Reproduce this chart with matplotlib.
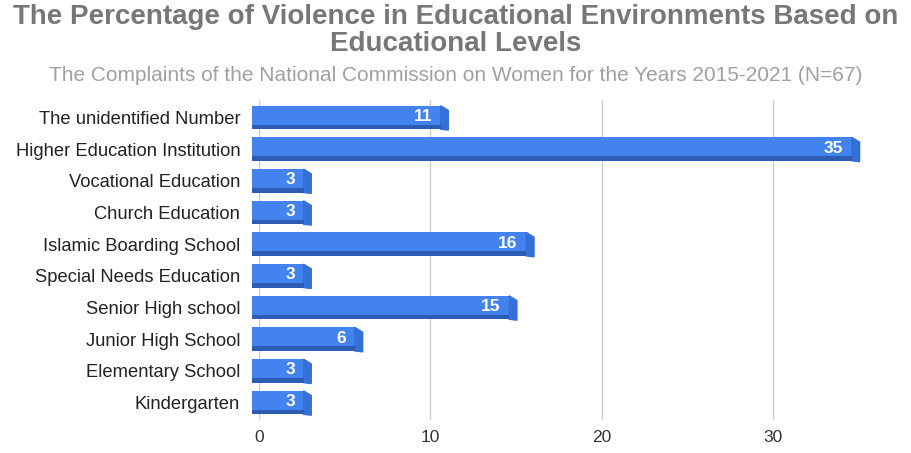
import numpy as np
import matplotlib.pyplot as plt
from matplotlib.patches import Polygon

categories = ['The unidentified Number', 'Higher Education Institution', 'Vocational Education',
              'Church Education', 'Islamic Boarding School', 'Special Needs Education',
              'Senior High school', 'Junior High School', 'Elementary School', 'Kindergarten']
values = [11, 35, 3, 3, 16, 3, 15, 6, 3, 3]
xticks = [0, 10, 20, 30]

plt.rcParams['font.family'] = ['Liberation Sans', 'DejaVu Sans']

fig = plt.figure(figsize=(9.11, 4.53), dpi=100)
ax = fig.add_axes([259 / 911, 33 / 453, 634 / 911, 320 / 453])

y = np.arange(len(categories))
h = 0.74
front = '#4283f0'
dark = '#2c5cb4'

# darker bottom strip and main face
ax.barh(y, values, height=h, left=-0.4, color=front, zorder=3, clip_on=False)
ax.barh(y + h / 2 - 0.07, values, height=0.14, left=-0.4, color=dark, zorder=4, clip_on=False)
# bevelled right side
for yi, v in zip(y, values):
    poly = Polygon([(v - 0.4, yi - h / 2), (v + 0.05, yi - h / 2 + 0.15),
                    (v + 0.05, yi + h / 2 + 0.03), (v - 0.4, yi + h / 2)],
                   closed=True, color='#3470d8', zorder=3)
    ax.add_patch(poly)
    ax.text(v - 0.9, yi - 0.03, str(v), ha='right', va='center', color='white',
            fontsize=12.5, fontweight='bold', zorder=5)

ax.set_xlim(0, 37)
ax.set_ylim(len(categories) - 0.45, -0.55)
ax.set_xticks(xticks)
ax.set_yticks(y)
ax.set_yticklabels(categories, fontsize=13.2, color='#222222')
ax.tick_params(axis='both', length=0)
ax.tick_params(axis='y', pad=13.5)
ax.tick_params(axis='x', labelsize=12.5, labelcolor='#333333', pad=7)
ax.grid(axis='x', color='#cccccc', linewidth=1, zorder=0)
for s in ax.spines.values():
    s.set_visible(False)

fig.text(0.5, 0.962, 'The Percentage of Violence in Educational Environments Based on',
         ha='center', va='center', fontsize=20, fontweight='bold', color='#777777')
fig.text(0.5, 0.902, 'Educational Levels', ha='center', va='center',
         fontsize=20, fontweight='bold', color='#777777')
fig.text(0.5, 0.834, 'The Complaints of the National Commission on Women for the Years 2015-2021 (N=67)',
         ha='center', va='center', fontsize=15, color='#a0a0a0')

fig.savefig('out.png', dpi=100)
